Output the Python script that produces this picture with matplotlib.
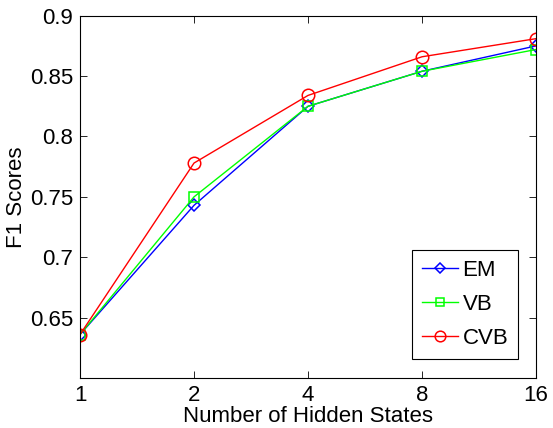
import matplotlib
matplotlib.use('Agg')
import matplotlib.pyplot as plt

plt.rcParams['font.family'] = ['Liberation Sans', 'DejaVu Sans']

# number of hidden states and F1 scores per method
states = [1, 2, 4, 8, 16]
em_scores = [0.636, 0.743, 0.825, 0.854, 0.875]
vb_scores = [0.636, 0.750, 0.825, 0.854, 0.872]
cvb_scores = [0.636, 0.778, 0.834, 0.866, 0.881]

y_ticks = [0.65, 0.7, 0.75, 0.8, 0.85, 0.9]
y_tick_labels = ['0.65', '0.7', '0.75', '0.8', '0.85', '0.9']

fig = plt.figure(figsize=(5.53, 4.28), dpi=100)
ax = fig.add_axes([0.1447, 0.1168, 0.8246, 0.8465])

ax.plot(states, em_scores, color='b', marker='D', markersize=6.5, markerfacecolor='none',
        markeredgewidth=1.1, linewidth=1.0, label='EM')
ax.plot(states, vb_scores, color=(0, 1, 0), marker='s', markersize=7, markerfacecolor='none',
        markeredgewidth=1.1, linewidth=1.0, label='VB')
ax.plot(states, cvb_scores, color='r', marker='o', markersize=9, markerfacecolor='none',
        markeredgewidth=1.1, linewidth=1.0, label='CVB')

ax.set_xscale('log', base=2)
ax.set_xlim(1, 16)
ax.set_ylim(0.6, 0.9)
ax.set_xticks(states)
ax.set_xticklabels([str(s) for s in states])
ax.minorticks_off()
ax.set_yticks(y_ticks)
ax.set_yticklabels(y_tick_labels)

ax.tick_params(direction='in', length=5, width=0.6, labelsize=16, top=True, right=True, pad=5)
for sp in ax.spines.values():
    sp.set_linewidth(0.8)

ax.set_xlabel('Number of Hidden States', fontsize=16, labelpad=0)
ax.set_ylabel('F1 Scores', fontsize=16, labelpad=2)

leg = ax.legend(loc='lower right', bbox_to_anchor=(0.961, 0.052), borderaxespad=0,
                fontsize=16, fancybox=False, edgecolor='black', framealpha=1,
                handlelength=1.6, handletextpad=0.2, labelspacing=0.6, borderpad=0.45,
                markerscale=0.85)
leg.get_frame().set_linewidth(0.8)

plt.savefig('out.png', dpi=100)
